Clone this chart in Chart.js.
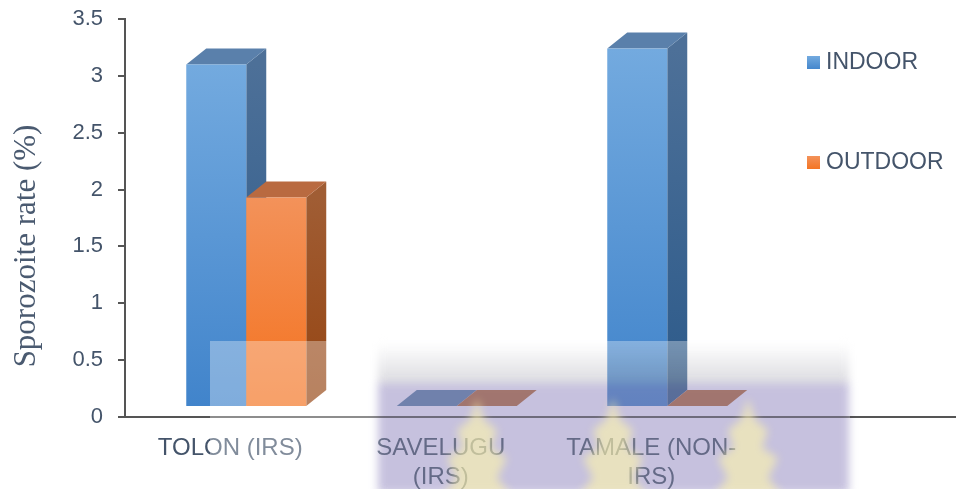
<!DOCTYPE html>
<html>
<head>
<meta charset="utf-8">
<script src="https://cdn.jsdelivr.net/npm/chart.js@4.4.1/dist/chart.umd.min.js"></script>
<style>
  html, body { margin: 0; padding: 0; background: #fff; }
  #wrap { width: 956px; height: 489px; position: relative; }
</style>
</head>
<body>
<div id="wrap"><canvas id="sporoChart"></canvas></div>
<script>
// data
var sites = [['TOLON (IRS)'], ['SAVELUGU', '(IRS)'], ['TAMALE (NON-', 'IRS)']];
var seriesNames = ['INDOOR', 'OUTDOOR'];
var indoorRates = [3.1, 0, 3.24];
var outdoorRates = [1.93, 0, 0];
var yTitle = 'Sporozoite rate (%)';

// look of the fake 3d bars
var faces = {
  INDOOR:  { front: ['#73aadf', '#4184cb'], side: ['#4d7098', '#2c5a8a'], top: '#5a80ab' },
  OUTDOOR: { front: ['#f3925a', '#f4721f'], side: ['#a05d34', '#954411'], top: '#b96a40' }
};
var depthX = 20, depthY = 16, shiftX = 16, floorLift = 11;
var textColor = '#44546A';
var sans = '"Liberation Sans", Arial, sans-serif';

function vGrad(ctx, y0, y1, c0, c1) {
  var g = ctx.createLinearGradient(0, y0, 0, y1);
  g.addColorStop(0, c0);
  g.addColorStop(1, c1);
  return g;
}

var bars3d = {
  id: 'bars3d',
  afterDatasetsDraw: function(chart) {
    var ctx = chart.ctx;
    var yScale = chart.scales.y;
    var floor = yScale.getPixelForValue(0) - floorLift;

    // x axis line keeps going to the right edge
    ctx.save();
    ctx.strokeStyle = '#555';
    ctx.lineWidth = 2;
    ctx.beginPath();
    ctx.moveTo(chart.chartArea.right, chart.chartArea.bottom);
    ctx.lineTo(chart.width, chart.chartArea.bottom);
    ctx.stroke();
    ctx.restore();

    chart.data.datasets.forEach(function(ds, di) {
      var meta = chart.getDatasetMeta(di);
      var f = faces[ds.label];
      meta.data.forEach(function(bar, i) {
        var left = bar.x - bar.width / 2 + shiftX;
        var right = left + bar.width;
        var top = Math.min(yScale.getPixelForValue(ds.data[i]), floor);
        ctx.save();
        // side
        if (floor - top > 0) {
          ctx.fillStyle = vGrad(ctx, top, floor, f.side[0], f.side[1]);
          ctx.beginPath();
          ctx.moveTo(right, top);
          ctx.lineTo(right + depthX, top - depthY);
          ctx.lineTo(right + depthX, floor - depthY);
          ctx.lineTo(right, floor);
          ctx.closePath();
          ctx.fill();
        }
        // top
        ctx.fillStyle = f.top;
        ctx.beginPath();
        ctx.moveTo(left, top);
        ctx.lineTo(left + depthX, top - depthY);
        ctx.lineTo(right + depthX, top - depthY);
        ctx.lineTo(right, top);
        ctx.closePath();
        ctx.fill();
        // front
        if (floor - top > 0) {
          ctx.fillStyle = vGrad(ctx, top, floor, f.front[0], f.front[1]);
          ctx.fillRect(left, top, bar.width, floor - top);
        }
        ctx.restore();
      });
    });
  },
  afterDraw: function(chart) {
    var ctx = chart.ctx;
    ctx.save();

    // y axis title
    ctx.save();
    ctx.translate(27, 246);
    ctx.rotate(-Math.PI / 2);
    ctx.font = '31px "Liberation Serif", "Times New Roman", serif';
    ctx.fillStyle = '#4a5a70';
    ctx.textAlign = 'center';
    ctx.textBaseline = 'middle';
    ctx.fillText(yTitle, 0, 0);
    ctx.restore();

    // legend
    ctx.font = '23px ' + sans;
    ctx.textBaseline = 'middle';
    ctx.textAlign = 'left';
    chart.data.datasets.forEach(function(ds, di) {
      var f = faces[ds.label];
      var ly = 63 + di * 100;
      ctx.fillStyle = vGrad(ctx, ly - 7, ly + 7, f.front[0], f.front[1]);
      ctx.fillRect(807, ly - 7, 13, 13);
      ctx.fillStyle = textColor;
      ctx.fillText(ds.label, 826, ly);
    });

    // scan watermark over the lower part
    ctx.fillStyle = 'rgba(255,255,255,0.33)';
    ctx.fillRect(210, 341, 640, 148);
    ctx.globalCompositeOperation = 'multiply';
    ctx.filter = 'blur(4px)';
    var sh = ctx.createLinearGradient(0, 343, 0, 383);
    sh.addColorStop(0, '#ffffff');
    sh.addColorStop(1, '#dcdce0');
    ctx.fillStyle = sh;
    ctx.fillRect(378, 343, 471, 40);
    ctx.fillStyle = '#c6c1de';
    ctx.fillRect(378, 383, 471, 110);
    ctx.globalCompositeOperation = 'source-over';
    ctx.filter = 'blur(4px)';
    ctx.fillStyle = 'rgba(255,246,170,0.6)';
    [477, 613, 748].forEach(function(cx) {
      ctx.beginPath();
      ctx.moveTo(cx, 398);
      ctx.lineTo(cx + 7, 420);
      ctx.lineTo(cx + 20, 430);
      ctx.lineTo(cx + 14, 448);
      ctx.lineTo(cx + 30, 458);
      ctx.lineTo(cx + 20, 478);
      ctx.lineTo(cx + 34, 495);
      ctx.lineTo(cx - 34, 495);
      ctx.lineTo(cx - 20, 478);
      ctx.lineTo(cx - 30, 458);
      ctx.lineTo(cx - 14, 448);
      ctx.lineTo(cx - 20, 430);
      ctx.lineTo(cx - 7, 420);
      ctx.closePath();
      ctx.fill();
    });
    ctx.restore();
  }
};

var ctx = document.getElementById('sporoChart').getContext('2d');
var chart = new Chart(ctx, {
  type: 'bar',
  data: {
    labels: sites,
    datasets: [
      { label: seriesNames[0], data: indoorRates, backgroundColor: 'rgba(0,0,0,0)' },
      { label: seriesNames[1], data: outdoorRates, backgroundColor: 'rgba(0,0,0,0)' }
    ]
  },
  options: {
    responsive: true,
    maintainAspectRatio: false,
    animation: false,
    layout: { padding: { top: 19, right: 199.5, bottom: 0, left: 0 } },
    categoryPercentage: 0.57,
    barPercentage: 1,
    plugins: {
      legend: { display: false },
      tooltip: { enabled: false }
    },
    scales: {
      x: {
        grid: { display: false },
        border: { display: true, color: '#555', width: 2 },
        ticks: {
          color: textColor,
          font: { family: sans, size: 24 },
          padding: 9,
          maxRotation: 0,
          autoSkip: false
        },
        afterFit: function(s) { s.height = 72; }
      },
      y: {
        min: 0,
        max: 3.5,
        ticks: {
          stepSize: 0.5,
          color: textColor,
          font: { family: sans, size: 22 },
          padding: 15,
          callback: function(v) { return String(v); }
        },
        grid: { drawOnChartArea: false, drawTicks: true, tickLength: 7, color: '#555', lineWidth: 2 },
        border: { display: true, color: '#555', width: 2 },
        afterFit: function(s) {
          s.width = 125;
          s.paddingTop = 0;
          s.paddingBottom = 0;
        }
      }
    }
  },
  plugins: [bars3d]
});
</script>
</body>
</html>
